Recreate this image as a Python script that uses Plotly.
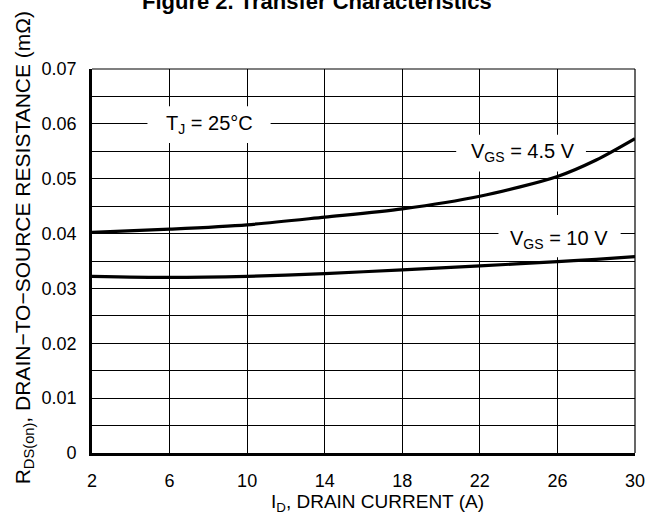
import plotly.graph_objects as go

# Data
id_current = [2, 6, 10, 14, 18, 22, 26, 28, 30]
rds_vgs_4_5 = [0.0402, 0.0408, 0.0416, 0.0430, 0.0445, 0.0468, 0.0504, 0.0534, 0.0573]
rds_vgs_10 = [0.0322, 0.0320, 0.0322, 0.0327, 0.0334, 0.0341, 0.0349, 0.0353, 0.0358]

x_ticks = [2, 6, 10, 14, 18, 22, 26, 30]
y_ticks = [0, 0.01, 0.02, 0.03, 0.04, 0.05, 0.06, 0.07]

FONT = "Liberation Sans, Arial, Helvetica, sans-serif"

fig = go.Figure()
for ys in (rds_vgs_4_5, rds_vgs_10):
    fig.add_trace(go.Scatter(
        x=id_current, y=ys, mode="lines",
        line=dict(color="black", width=3.2, shape="spline", smoothing=0.8),
        showlegend=False, hoverinfo="skip",
    ))

fig.update_layout(
    width=657, height=529,
    margin=dict(l=92, r=18, t=69, b=76, pad=0),
    paper_bgcolor="white", plot_bgcolor="white",
    font=dict(family=FONT, size=18, color="black"),
    showlegend=False,
)

fig.update_xaxes(
    range=[2, 30], tickvals=x_ticks, ticktext=[str(v) for v in x_ticks],
    showgrid=True, gridcolor="black", gridwidth=1,
    showline=True, linecolor="black", linewidth=2.6,
    ticks="", ticklabelstandoff=10, zeroline=False,
    tickfont=dict(size=18),
)
fig.update_yaxes(
    range=[0, 0.07], tickvals=y_ticks, ticktext=["0"] + [f"{v:.2f}" for v in y_ticks[1:]],
    showgrid=True, gridcolor="black", gridwidth=1,
    minor=dict(dtick=0.005, showgrid=True, gridcolor="black", gridwidth=1, ticks=""),
    showline=True, linecolor="black", linewidth=2.6,
    ticks="", ticklabelstandoff=9, zeroline=False,
    tickfont=dict(size=18),
)

# frame top/right
fig.add_shape(type="line", xref="paper", yref="paper", x0=0, x1=1, y0=1, y1=1,
              line=dict(color="black", width=1.2))
fig.add_shape(type="line", xref="paper", yref="paper", x0=1, x1=1, y0=0, y1=1,
              line=dict(color="black", width=1.2))

# white label boxes: above gridlines, below the curves
for (bx0, bx1, by0, by1) in [(4.86, 11.21, 0.0565, 0.0632),
                              (20.78, 27.47, 0.0513, 0.0580),
                              (22.96, 29.26, 0.0357, 0.0434)]:
    fig.add_shape(type="rect", xref="x", yref="y", x0=bx0, x1=bx1, y0=by0, y1=by1,
                  fillcolor="white", line=dict(width=0), layer="between")

# labels inside the plot
fig.add_annotation(x=8.08, y=0.0598, xref="x", yref="y", text="T<sub>J</sub> = 25°C",
                   showarrow=False, font=dict(size=20))
fig.add_annotation(x=24.23, y=0.0547, xref="x", yref="y", text="V<sub>GS</sub> = 4.5 V",
                   showarrow=False, font=dict(size=20))
fig.add_annotation(x=26.07, y=0.0389, xref="x", yref="y", text="V<sub>GS</sub> = 10 V",
                   showarrow=False, font=dict(size=20))

# titles
fig.add_annotation(x=0.415, y=1.138, xref="paper", yref="paper",
                   text="<b>Figure 2. Transfer Characteristics</b>",
                   showarrow=False, xanchor="center", yanchor="bottom",
                   font=dict(size=22))
fig.add_annotation(x=0.5265, y=-0.1295, xref="paper", yref="paper",
                   text="I<sub>D</sub>, DRAIN CURRENT (A)",
                   showarrow=False, xanchor="center", yanchor="middle",
                   font=dict(size=19))
fig.add_annotation(x=-0.126, y=0.5345, xref="paper", yref="paper",
                   text="R<sub>DS(on)</sub>, DRAIN−TO−SOURCE RESISTANCE (mΩ)",
                   textangle=-90, showarrow=False, xanchor="center", yanchor="middle",
                   font=dict(size=21))

fig.write_html("out.html", config={"displayModeBar": False},
               post_script="document.body.style.margin='0';")
